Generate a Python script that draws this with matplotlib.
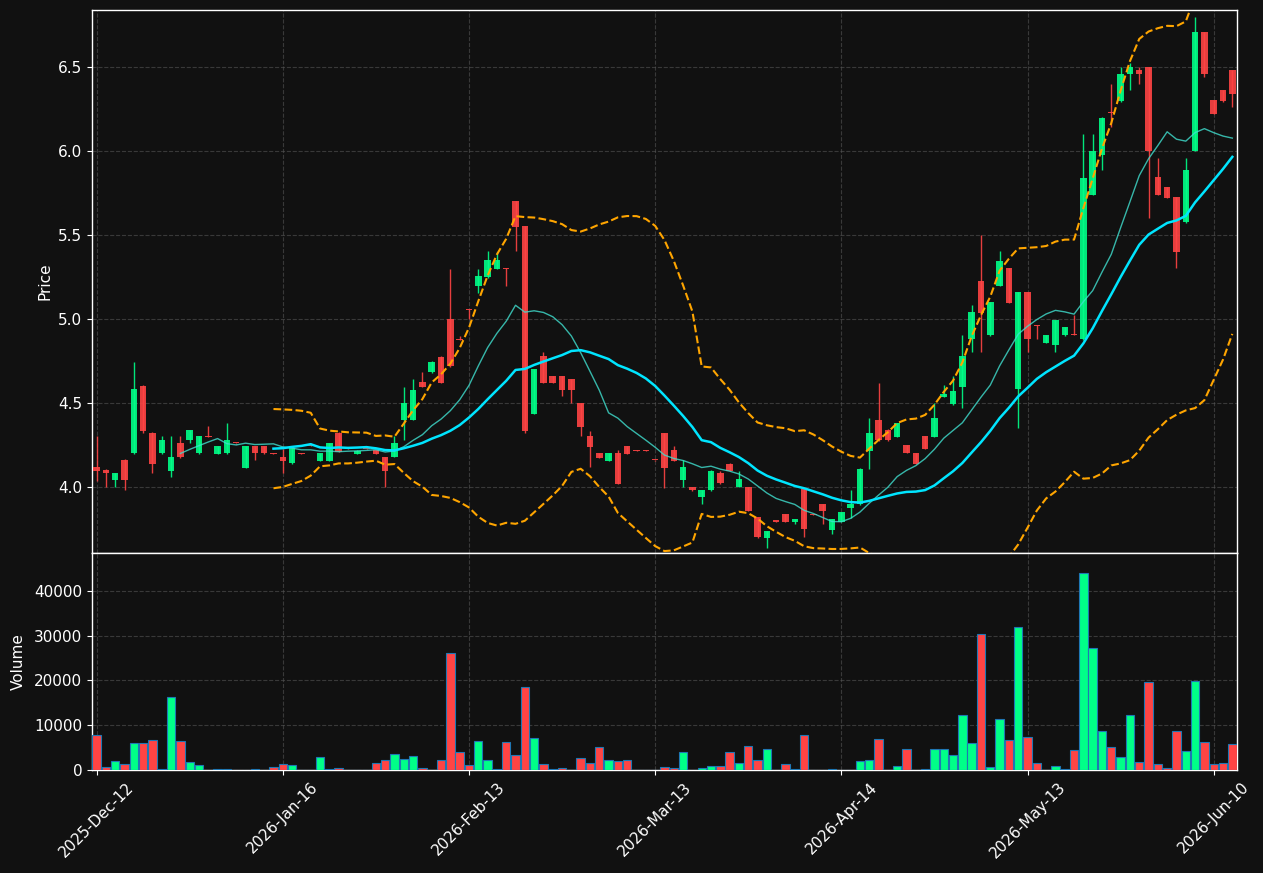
import numpy as np
import pandas as pd
import matplotlib
matplotlib.use("Agg")
import matplotlib.pyplot as plt

# ---------------- data ----------------
opens = [4.119, 4.101, 4.041, 4.162, 4.200, 4.600, 4.322, 4.200, 4.098, 4.261,
         4.278, 4.200, 4.303, 4.198, 4.200, 4.261, 4.115, 4.244, 4.244, 4.201,
         4.178, 4.141, 4.201, 4.245, 4.155, 4.155, 4.323, 4.231, 4.198, 4.231,
         4.220, 4.178, 4.180, 4.400, 4.400, 4.626, 4.681, 4.776, 4.999, 4.880,
         5.054, 5.196, 5.246, 5.298, 5.300, 5.700, 5.550, 4.435, 4.779, 4.660,
         4.660, 4.643, 4.498, 4.303, 4.202, 4.157, 4.202, 4.244, 4.219, 4.219,
         4.160, 4.321, 4.220, 4.041, 4.000, 3.939, 3.980, 4.081, 4.139, 4.000,
         3.998, 3.820, 3.699, 3.797, 3.839, 3.794, 3.988, 3.836, 3.899, 3.744,
         3.794, 3.877, 3.897, 4.217, 4.400, 4.342, 4.298, 4.249, 4.200, 4.301,
         4.298, 4.536, 4.492, 4.594, 4.878, 5.225, 4.901, 5.196, 5.301, 4.582,
         5.159, 4.960, 4.857, 4.846, 4.901, 4.905, 4.878, 5.738, 5.976, 6.223,
         6.294, 6.457, 6.480, 6.497, 5.842, 5.782, 5.724, 5.573, 5.999, 6.703,
         6.300, 6.358, 6.480]
highs = [4.301, 4.105, 4.085, 4.165, 4.742, 4.605, 4.325, 4.301, 4.301, 4.301,
         4.342, 4.306, 4.363, 4.246, 4.379, 4.263, 4.246, 4.246, 4.246, 4.203,
         4.224, 4.236, 4.203, 4.247, 4.202, 4.264, 4.325, 4.233, 4.218, 4.233,
         4.222, 4.180, 4.301, 4.597, 4.640, 4.681, 4.747, 4.778, 5.298, 4.898,
         5.056, 5.298, 5.402, 5.400, 5.302, 5.702, 5.552, 4.703, 4.800, 4.662,
         4.662, 4.645, 4.500, 4.336, 4.204, 4.204, 4.220, 4.246, 4.221, 4.221,
         4.162, 4.323, 4.244, 4.159, 4.002, 3.982, 4.100, 4.098, 4.141, 4.098,
         4.000, 3.822, 3.740, 3.799, 3.841, 3.812, 3.990, 3.838, 3.901, 3.812,
         3.853, 3.982, 4.112, 4.408, 4.620, 4.344, 4.382, 4.251, 4.202, 4.303,
         4.498, 4.608, 4.660, 4.901, 5.080, 5.501, 5.100, 5.402, 5.303, 5.161,
         5.161, 4.962, 4.903, 4.996, 4.952, 5.025, 6.097, 6.097, 6.198, 6.396,
         6.500, 6.520, 6.497, 6.499, 5.958, 5.784, 5.726, 5.958, 6.795, 6.705,
         6.302, 6.360, 6.482]
lows = [4.038, 4.000, 4.000, 3.980, 4.195, 4.319, 4.081, 4.195, 4.058, 4.175,
        4.261, 4.198, 4.298, 4.196, 4.198, 4.257, 4.113, 4.162, 4.198, 4.197,
        4.085, 4.139, 4.197, 4.241, 4.153, 4.153, 4.208, 4.227, 4.196, 4.227,
        4.196, 4.000, 4.178, 4.278, 4.398, 4.595, 4.679, 4.618, 4.716, 4.874,
        5.002, 5.153, 5.244, 5.296, 5.196, 5.402, 4.319, 4.433, 4.618, 4.618,
        4.539, 4.498, 4.301, 4.117, 4.172, 4.155, 4.018, 4.196, 4.215, 4.215,
        4.156, 3.996, 4.155, 4.000, 3.978, 3.899, 3.978, 4.020, 4.096, 3.998,
        3.857, 3.699, 3.639, 3.793, 3.792, 3.780, 3.701, 3.832, 3.778, 3.719,
        3.792, 3.814, 3.895, 4.110, 4.276, 4.276, 4.296, 4.201, 4.137, 4.227,
        4.296, 4.534, 4.490, 4.469, 4.800, 4.805, 4.899, 5.194, 5.093, 4.351,
        4.800, 4.878, 4.855, 4.800, 4.899, 4.901, 4.876, 5.736, 5.883, 6.138,
        6.292, 6.358, 6.399, 5.599, 5.736, 5.719, 5.301, 5.571, 5.997, 6.440,
        6.217, 6.292, 6.260]
closes = [4.098, 4.081, 4.081, 4.041, 4.582, 4.336, 4.139, 4.281, 4.180, 4.177,
          4.339, 4.304, 4.300, 4.244, 4.279, 4.259, 4.244, 4.200, 4.200, 4.199,
          4.155, 4.234, 4.199, 4.243, 4.200, 4.262, 4.210, 4.229, 4.216, 4.229,
          4.198, 4.095, 4.261, 4.498, 4.579, 4.597, 4.745, 4.620, 4.718, 4.876,
          5.050, 5.254, 5.350, 5.350, 5.297, 5.547, 4.336, 4.701, 4.620, 4.620,
          4.579, 4.579, 4.359, 4.240, 4.174, 4.202, 4.020, 4.198, 4.217, 4.217,
          4.158, 4.115, 4.157, 4.119, 3.980, 3.980, 4.098, 4.022, 4.098, 4.050,
          3.859, 3.701, 3.738, 3.795, 3.794, 3.810, 3.748, 3.834, 3.859, 3.810,
          3.851, 3.899, 4.110, 4.322, 4.278, 4.278, 4.380, 4.203, 4.139, 4.229,
          4.408, 4.556, 4.571, 4.779, 5.040, 5.037, 5.098, 5.344, 5.095, 5.159,
          4.878, 4.958, 4.901, 4.994, 4.950, 4.903, 5.840, 5.999, 6.196, 6.221,
          6.457, 6.497, 6.457, 5.996, 5.738, 5.721, 5.399, 5.883, 6.703, 6.457,
          6.219, 6.294, 6.335]
volumes = [7760, 765, 1970, 1420, 6010, 6010, 6670, 200, 16280, 6450,
           1750, 1200, 100, 330, 330, 100, 100, 200, 50, 765,
           1420, 1200, 50, 100, 2840, 330, 550, 100, 100, 30,
           1530, 2190, 3500, 2400, 3060, 550, 100, 2190, 26120, 3930,
           1090, 6450, 2190, 330, 6230, 3280, 18470, 7100, 1310, 330,
           550, 30, 2620, 1530, 5030, 2190, 1970, 2190, 30, 30,
           30, 765, 550, 3930, 100, 550, 980, 980, 3930, 1530,
           5250, 2190, 4590, 30, 1310, 330, 7760, 30, 100, 200,
           30, 100, 1970, 2190, 6890, 100, 980, 4590, 30, 200,
           4590, 4590, 3280, 12240, 6010, 30380, 765, 11370, 6670, 31910,
           7320, 1530, 100, 980, 330, 4370, 44040, 27210, 8630, 5030,
           2840, 12240, 1750, 19670, 1310, 550, 8630, 4150, 19890, 6230,
           1310, 1530, 5790]
tick_labels = ["2025-Dec-12", "2026-Jan-16", "2026-Feb-13", "2026-Mar-13",
               "2026-Apr-14", "2026-May-13", "2026-Jun-10"]

# ---------------- styling ----------------
BG = "#111111"
UP = "#00ff88"
DOWN = "#ff4444"
TXT = "white"
GRID = dict(color="#555555", linestyle="--", linewidth=0.8, alpha=0.6)

n = len(closes)
x = np.arange(n)
o = np.array(opens); h = np.array(highs); l = np.array(lows); c = np.array(closes)
v = np.array(volumes)
up = c >= o
cols = np.where(up, UP, DOWN)

close_s = pd.Series(c)
ma10 = close_s.rolling(10).mean()
ma20 = close_s.rolling(20).mean()
sd20 = close_s.rolling(20).std(ddof=0)
bb_up = ma20 + 2 * sd20
bb_lo = ma20 - 2 * sd20

fig = plt.figure(figsize=(12.63, 8.73), dpi=100, facecolor=BG)
ax1 = fig.add_axes([0.0728, 0.3666, 0.9066, 0.6219], facecolor=BG)
ax2 = fig.add_axes([0.0728, 0.118, 0.9066, 0.2486], facecolor=BG, sharex=ax1)

# candles
ax1.vlines(x, l, h, colors=cols, linewidth=1, alpha=0.9, zorder=3)
body_bottom = np.minimum(o, c)
body_h = np.maximum(np.abs(c - o), 0.006)
ax1.bar(x, body_h, bottom=body_bottom, width=0.7, color=cols, alpha=0.9,
        linewidth=0, zorder=4)

# indicators
ax1.plot(x, ma10, color="#40E0D0", linewidth=1, alpha=0.8, zorder=5)
ax1.plot(x, ma20, color="#00E5FF", linewidth=1.8, zorder=5)
ax1.plot(x, bb_up, color="orange", linestyle="--", linewidth=1.5, zorder=5)
ax1.plot(x, bb_lo, color="orange", linestyle="--", linewidth=1.5, zorder=5)

ax1.set_xlim(-0.5, n - 0.5)
ax1.set_ylim(3.608, 6.836)
ax1.set_ylabel("Price", color=TXT, fontsize=11, labelpad=4)
ax1.grid(True, **GRID)
ax1.tick_params(axis="x", labelbottom=False, length=0)

# volume
ax2.bar(x, v, width=0.9, color=cols, edgecolor="#1f77b4", linewidth=0.8, zorder=3)
ax2.set_ylim(0, v.max() * 1.1)
ax2.set_ylabel("Volume", color=TXT, fontsize=11, labelpad=6)
ax2.grid(True, **GRID)
ax2.set_xticks(np.arange(0, n, 20))
ax2.set_xticklabels(tick_labels, rotation=45, ha="center")

for ax in (ax1, ax2):
    ax.set_axisbelow(True)
    ax.tick_params(colors=TXT, labelsize=11)
    for sp in ax.spines.values():
        sp.set_color(TXT)
        sp.set_linewidth(1)

fig.savefig("out.png", dpi=100, facecolor=BG)
